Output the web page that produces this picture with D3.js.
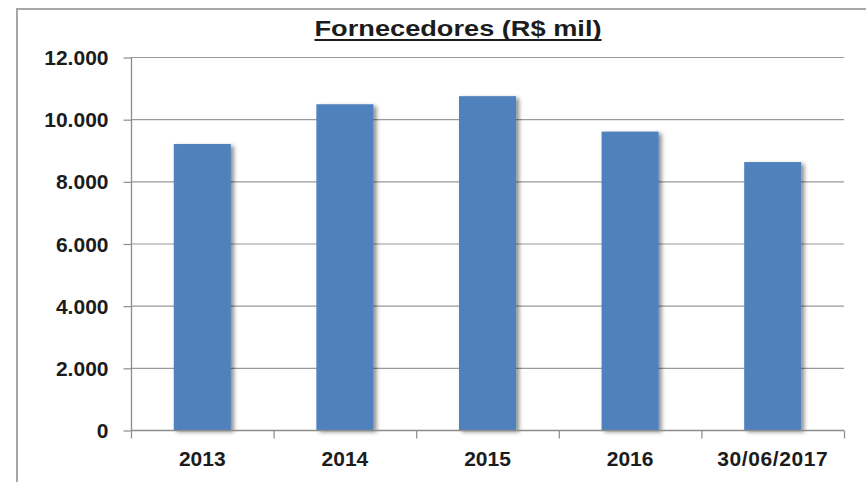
<!DOCTYPE html>
<html><head><meta charset="utf-8">
<script src="https://cdn.jsdelivr.net/npm/d3@7"></script>
<style>body{margin:0;background:#fff}svg{display:block}</style>
</head><body>
<svg id="c" width="866" height="482"></svg>
<script>
const categories = ["2013","2014","2015","2016","30/06/2017"];
const values = [9200, 10480, 10740, 9600, 8620];
const yTicks = [0,2000,4000,6000,8000,10000,12000];
const title = "Fornecedores (R$ mil)";

(function(){
const svg = d3.select("#c");
const pL = 131, pR = 844, pT = 57, pB = 430;
const x = d3.scaleBand().domain(categories).range([pL, pR]).padding(0);
const y = d3.scaleLinear().domain([0, 12000]).range([pB, pT]);
const fmt = v => d3.format(",")(v).replace(/,/g, ".");
const FONT = "'Liberation Sans',Arial,sans-serif";

const defs = svg.append("defs");
const f = defs.append("filter").attr("id","sh").attr("x","-20%").attr("y","-5%").attr("width","150%").attr("height","115%");
f.append("feDropShadow").attr("dx",3).attr("dy",2).attr("stdDeviation",2.2).attr("flood-color","#000").attr("flood-opacity",0.45);

// outer border (cropped at right and bottom)
svg.append("path").attr("d","M17,482 V9 H866").attr("fill","none").attr("stroke","#a6a6a6").attr("stroke-width",2);

// gridlines
svg.append("g").selectAll("line").data(yTicks.filter(d=>d>0)).join("line")
  .attr("x1", pL).attr("x2", pR).attr("y1", d=>y(d)+0.5).attr("y2", d=>y(d)+0.5)
  .attr("stroke","#9a9a9a").attr("stroke-width",1.2);

// y axis
const ya = svg.append("g").attr("transform",`translate(${pL+0.5},0)`)
  .call(d3.axisLeft(y).tickValues(yTicks).tickFormat(fmt).tickSize(8).tickPadding(15));
ya.select(".domain").attr("stroke","#8c8c8c").attr("stroke-width",1.3).attr("d",`M0,${pT}V${pB}`);
ya.selectAll(".tick line").attr("stroke","#8c8c8c").attr("stroke-width",1.2).attr("transform","translate(0,0.5)");
ya.selectAll(".tick text").attr("font-family",FONT).attr("font-weight","bold")
  .attr("font-size",21).attr("fill","#1c1c1c").attr("dy","0.36em");

// bars
const bw = x.bandwidth()*0.4;
svg.append("g").selectAll("rect").data(values).join("rect")
  .attr("x",(d,i)=>x(categories[i]) + (x.bandwidth()-bw)/2)
  .attr("y",d=>y(d)).attr("width",bw).attr("height",d=>pB-y(d))
  .attr("fill","#4f81bd").attr("filter","url(#sh)");

// x axis
const xa = svg.append("g").attr("transform",`translate(0,${pB+0.5})`);
xa.append("line").attr("x1",pL).attr("x2",pR).attr("stroke","#8c8c8c").attr("stroke-width",1.3);
const bounds = categories.map(c=>x(c)).concat([x(categories[categories.length-1])+x.bandwidth()]);
xa.selectAll("line.t").data(bounds).join("line").attr("class","t")
  .attr("x1",d=>d+0.5).attr("x2",d=>d+0.5).attr("y1",0).attr("y2",8)
  .attr("stroke","#8c8c8c").attr("stroke-width",1.2);
xa.selectAll("text").data(categories).join("text")
  .attr("x",d=>x(d)+x.bandwidth()/2).attr("y",35).attr("text-anchor","middle")
  .attr("font-family",FONT).attr("font-weight","bold")
  .attr("font-size",21).attr("letter-spacing",d=>d.length>4?"0.6px":"0px")
  .attr("fill","#1c1c1c").text(d=>d);

// title
const tW = 287;
svg.append("text").attr("x",458).attr("y",36).attr("text-anchor","middle")
  .attr("font-family",FONT).attr("font-weight","bold")
  .attr("font-size",22).attr("textLength",tW).attr("lengthAdjust","spacingAndGlyphs")
  .attr("fill","#1c1c1c").text(title);
svg.append("line").attr("x1",458-tW/2).attr("x2",458+tW/2).attr("y1",40).attr("y2",40)
  .attr("stroke","#1c1c1c").attr("stroke-width",2);
})();
</script>
</body></html>
